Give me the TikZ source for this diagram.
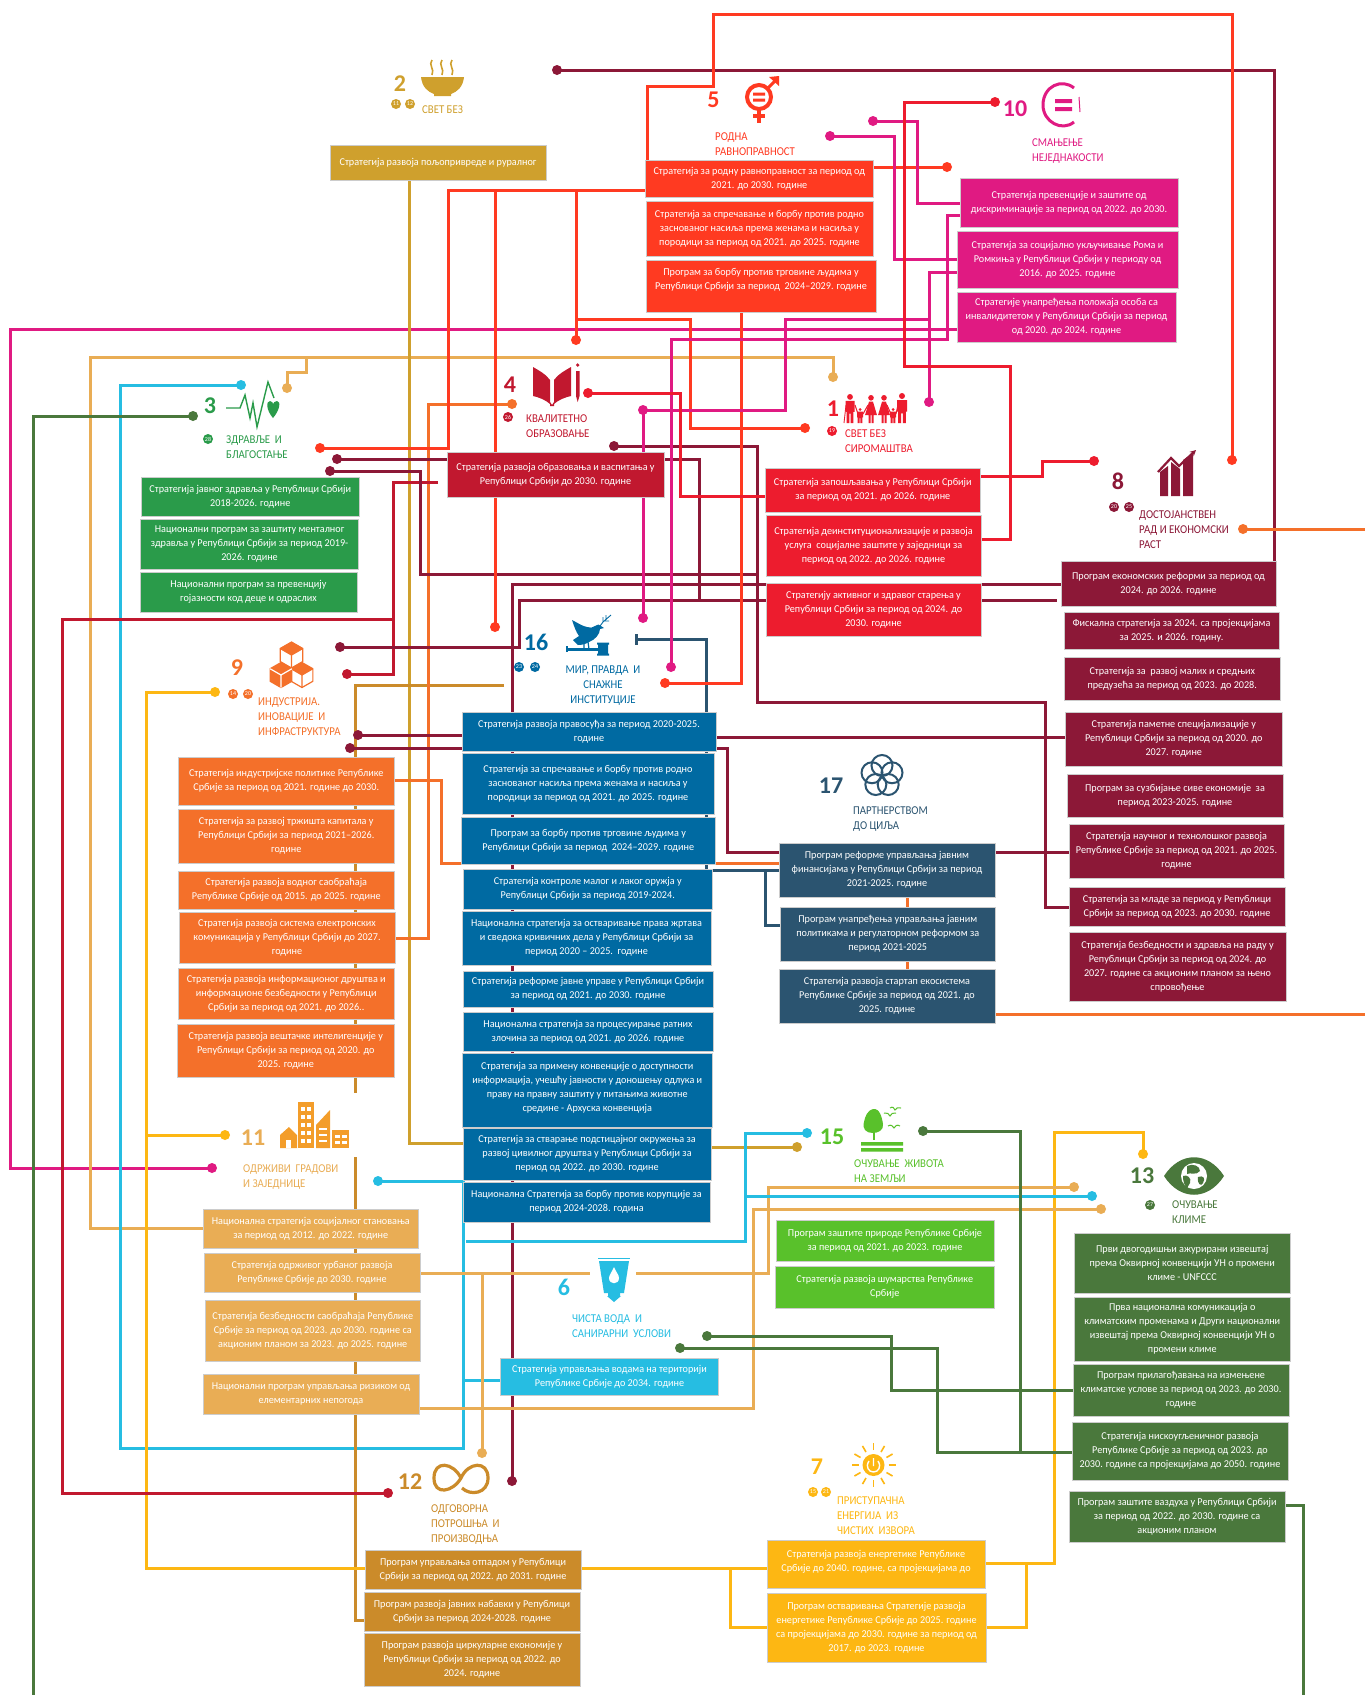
\documentclass[tikz,border=0pt]{standalone}
\usepackage{fontspec}
\setmainfont{Carlito}
\newfontfamily\boxfam[FakeStretch=0.97]{Carlito}
\newfontfamily\labfam[FakeStretch=0.9]{Carlito}
\usetikzlibrary{backgrounds,arrows.meta}
\definecolor{cRed}{HTML}{FF3A21}
\definecolor{cPink}{HTML}{E01A82}
\definecolor{cOne}{HTML}{ED1C2E}
\definecolor{cFour}{HTML}{C1182F}
\definecolor{cEight}{HTML}{8C1837}
\definecolor{cSeventeen}{HTML}{2B5470}
\definecolor{cNine}{HTML}{F4702A}
\definecolor{cTwo}{HTML}{CFA02D}
\definecolor{cTwelve}{HTML}{CB8B2A}
\definecolor{cSeven}{HTML}{FDB713}
\definecolor{cEleven}{HTML}{E9AD55}
\definecolor{cBuild}{HTML}{F39D2A}
\definecolor{cSix}{HTML}{26BDE2}
\definecolor{cThirteen}{HTML}{4A783C}
\definecolor{cThree}{HTML}{2A9B4A}
\definecolor{cFifteen}{HTML}{59C12B}
\definecolor{cSixteen}{HTML}{006AA2}
\tikzset{
  stratbox/.style={draw=black!20,line width=1pt,text=white,align=center,inner sep=0pt,outer sep=0pt,
    font={\fontsize{10.5}{14}\selectfont\boxfam}},
  conn/.style={line width=3pt,line join=miter},
  dotnode/.style={circle,inner sep=0pt,minimum size=10pt},
  numlab/.style={inner sep=0pt,font={\fontsize{24}{24}\selectfont\bfseries}},
  goallab/.style={inner sep=0pt,anchor=west,align=left,yshift=-1pt,font={\fontsize{12}{15}\selectfont\labfam}},
  badgenode/.style={circle,inner sep=0pt,minimum size=10pt,text=white,font={\fontsize{6}{6}\selectfont}}
}
\newcommand{\stbox}[7]{\node[stratbox,fill=#6,minimum width=#4pt-#2pt,minimum height=#5pt-#3pt] (#1) at ({(#2+#4)/2},{(#3+#5)/2}) {#7};}
\newcommand{\dotn}[4]{\node[dotnode,fill=#4] (#1) at (#2,#3) {};}
\newcommand{\badgen}[5]{\node[badgenode,fill=#4] (#1) at (#2,#3) {#5};}
\newcommand{\cubehex}[4]{%
  \draw[cNine,line width=1.2pt,line join=round,fill=#4]
   (#1,#2-#3) -- (#1+.87*#3,#2-.5*#3) -- (#1+.87*#3,#2+.5*#3) -- (#1,#2+#3) -- (#1-.87*#3,#2+.5*#3) -- (#1-.87*#3,#2-.5*#3) -- cycle;}
\newcommand{\cubeinner}[4]{%
  \draw[#4,line width=1.2pt] (#1-.87*#3,#2-.5*#3) -- (#1,#2) -- (#1+.87*#3,#2-.5*#3) (#1,#2) -- (#1,#2+#3);}
\newcommand{\personic}[4]{%
  \fill[cOne] (#1,#2+.1*#3) circle[radius=.1*#3];
  \fill[cOne] (#1-#4/2,#2+.24*#3) -- (#1+#4/2,#2+.24*#3) -- (#1+#4/2,#2+.62*#3) -- (#1+.38*#4,#2+.62*#3) -- (#1+.38*#4,#2+#3) -- (#1+.08*#4,#2+#3) -- (#1+.08*#4,#2+.68*#3) -- (#1-.08*#4,#2+.68*#3) -- (#1-.08*#4,#2+#3) -- (#1-.38*#4,#2+#3) -- (#1-.38*#4,#2+.62*#3) -- (#1-#4/2,#2+.62*#3) -- cycle;}
\newcommand{\womanic}[3]{%
  \fill[cOne] (#1,#2+.1*#3) circle[radius=.1*#3];
  \fill[cOne] (#1-2,#2+.24*#3) -- (#1+2,#2+.24*#3) -- (#1+6,#2+.72*#3) -- (#1+2.5,#2+.72*#3) -- (#1+2.5,#2+#3) -- (#1+.5,#2+#3) -- (#1+.5,#2+.72*#3) -- (#1-.5,#2+.72*#3) -- (#1-.5,#2+#3) -- (#1-2.5,#2+#3) -- (#1-2.5,#2+.72*#3) -- (#1-6,#2+.72*#3) -- cycle;}
\begin{document}
\begin{tikzpicture}[x=1pt,y=-1pt]
\useasboundingbox (0,0) rectangle (1365,1695);
% ---------- boxes
\stbox{b2}{330}{145}{546}{180}{cTwo}{Стратегија развоја пољопривреде и руралног}
\stbox{b5a}{645.5}{160}{873}{197}{cRed}{Стратегија за родну равноправност за период од\\2021. до 2030. године}
\stbox{b5b}{646}{201}{873}{256}{cRed}{Стратегија за спречавање и борбу против родно\\заснованог насиља према женама и насиља у\\породици за период од 2021. до 2025. године}
\stbox{b5c}{646}{260}{876}{312}{cRed}{Програм за борбу против трговине људима у\\Републици Србији за период~~2024–2029. године\\\mbox{}}
\stbox{b10a}{960}{178}{1178}{227}{cPink}{Стратегија превенције и заштите од\\дискриминације за период од 2022. до 2030.}
\stbox{b10b}{957}{231}{1178}{288}{cPink}{Стратегија за социјално укључивање Рома и\\Ромкиња у Републици Србији у периоду од\\2016. до 2025. године}
\stbox{b10c}{957}{292}{1176}{342}{cPink}{Стратегије унапређења положаја особа са\\инвалидитетом у Републици Србији за период\\од 2020. до 2024. године}
\stbox{b3a}{141.5}{477}{359}{516}{cThree}{Стратегија јавног здравља у Републици Србији\\2018-2026. године}
\stbox{b3b}{140.6}{519}{358.5}{569}{cThree}{Национални програм за заштиту менталног\\здравља у Републици Србији за период 2019-\\2026. године}
\stbox{b3c}{140}{572}{357}{612}{cThree}{Национални програм за превенцију\\гојазности код деце и одраслих}
\stbox{b4}{447}{452}{664}{497}{cFour}{Стратегија развоја образовања и васпитања у\\Републици Србији до 2030. године}
\stbox{b1a}{765}{468}{980.6}{512}{cOne}{Стратегија запошљавања у Републици Србији\\за период од 2021. до 2026. године}
\stbox{b1b}{766}{515}{981}{576}{cOne}{Стратегија деинституционализације и развоја\\услуга~~социјалне заштите у заједници за\\период од 2022. до 2026. године}
\stbox{b1c}{766}{583}{981}{636}{cOne}{Стратегију активног и здравог старења у\\Републици Србији за период од 2024. до\\2030. године}
\stbox{b8a}{1061}{561}{1276}{606}{cEight}{Програм економских реформи за период од\\2024. до 2026. године}
\stbox{b8b}{1064}{612}{1279}{649}{cEight}{Фискална стратегија за 2024. са пројекцијама\\за 2025. и 2026. годину.}
\stbox{b8c}{1064.5}{657}{1280}{700}{cEight}{Стратегија за~~развој малих и средњих\\предузећа за период од 2023. до 2028.}
\stbox{b8d}{1065.5}{712}{1282}{766}{cEight}{Стратегија паметне специјализације у\\Републици Србији за период од 2020. до\\2027. године}
\stbox{b8e}{1067}{774}{1283}{817}{cEight}{Програм за сузбијање сиве економије~~за\\период 2023-2025. године}
\stbox{b8f}{1069}{824}{1284}{878}{cEight}{Стратегија научног и технолошког развоја\\Републике Србије за период од 2021. до 2025.\\године}
\stbox{b8g}{1069}{887}{1285}{926}{cEight}{Стратегија за младе за период у Републици\\Србији за период од 2023. до 2030. године}
\stbox{b8h}{1069}{932}{1286}{1001}{cEight}{Стратегија безбедности и здравља на раду у\\Републици Србији за период од 2024. до\\2027. године са акционим планом за њено\\спровођење}
\stbox{b9a}{178}{757}{394.5}{805}{cNine}{Стратегија индустријске политике Републике\\Србије за период од 2021. године до 2030.}
\stbox{b9b}{178}{809}{394.5}{863}{cNine}{Стратегија за развој тржишта капитала у\\Републици Србији за период 2021–2026.\\године}
\stbox{b9c}{178}{871}{394.5}{909}{cNine}{Стратегија развоја водног саобраћаја\\Републике Србије од 2015. до 2025. године}
\stbox{b9d}{179}{912}{395}{963}{cNine}{Стратегија развоја система електронских\\комуникација у Републици Србији до 2027.\\године}
\stbox{b9e}{178}{968}{394.5}{1019}{cNine}{Стратегија развоја информационог друштва и\\информационе безбедности у Републици\\Србији за период од 2021. до 2026..}
\stbox{b9f}{177.5}{1024}{394}{1077}{cNine}{Стратегија развоја вештачке интелигенције у\\Републици Србији за период од 2020. до\\2025. године}
\stbox{b16a}{462}{712}{716}{751}{cSixteen}{Стратегија развоја правосуђа за период 2020-2025.\\године}
\stbox{b16b}{462}{753}{714}{814}{cSixteen}{Стратегија за спречавање и борбу против родно\\заснованог насиља према женама и насиља у\\породици за период од 2021. до 2025. године}
\stbox{b16c}{461.5}{817}{715}{864}{cSixteen}{Програм за борбу против трговине људима у\\Републици Србији за период~~2024–2029. године}
\stbox{b16d}{463}{869}{712.5}{909}{cSixteen}{Стратегија контроле малог и лаког оружја у\\Републици Србији за период 2019-2024.}
\stbox{b16e}{462}{911}{711}{965}{cSixteen}{Национална стратегија за остваривање права жртава\\и сведока кривичних дела у Републици Србији за\\период 2020 – 2025.~~године}
\stbox{b16f}{463}{971}{713}{1007}{cSixteen}{Стратегија реформе јавне управе у Републици Србији\\за период од 2021. до 2030. године}
\stbox{b16g}{463}{1012}{713}{1051}{cSixteen}{Национална стратегија за процесуирање ратних\\злочина за период од 2021. до 2026. године}
\stbox{b16h}{462}{1053}{712.5}{1127}{cSixteen}{Стратегија за примену конвенције о доступности\\информација, учешћу јавности у доношењу одлука и\\праву на правну заштиту у питањима животне\\средине - Архуска конвенција\\[-7pt]\mbox{}}
\stbox{b16i}{463}{1128}{711}{1180}{cSixteen}{Стратегија за стварање подстицајног окружења за\\развој цивилног друштва у Републици Србији за\\период од 2022. до 2030. године}
\stbox{b16j}{463}{1182}{710}{1222}{cSixteen}{Национална Стратегија за борбу против корупције за\\период 2024-2028. година}
\stbox{b17a}{779}{843}{995}{897}{cSeventeen}{Програм реформе управљања јавним\\финансијама у Републици Србији за период\\2021-2025. године}
\stbox{b17b}{780}{907}{995.5}{961}{cSeventeen}{Програм унапређења управљања јавним\\политикама и регулаторном реформом за\\период 2021-2025}
\stbox{b17c}{779}{969}{995}{1023}{cSeventeen}{Стратегија развоја стартап екосистема\\Републике Србије за период од 2021. до\\2025. године}
\stbox{b11a}{203}{1209}{418.6}{1248}{cEleven}{Национална стратегија социјалног становања\\за период од 2012. до 2022. године}
\stbox{b11b}{204}{1253}{420}{1292}{cEleven}{Стратегија одрживог урбаног развоја\\Републике Србије до 2030. године}
\stbox{b11c}{205}{1300}{420.5}{1361}{cEleven}{Стратегија безбедности саобраћаја Републике\\Србије за период од 2023. до 2030. године са\\акционим планом за 2023. до 2025. године}
\stbox{b11d}{203}{1374}{419}{1414}{cEleven}{Национални програм управљања ризиком од\\елементарних непогода}
\stbox{b6}{500.5}{1358}{718.6}{1395}{cSix}{Стратегија управљања водама на територији\\Републике Србије до 2034. године}
\stbox{b15a}{776}{1220}{994}{1261}{cFifteen}{Програм заштите природе Републике Србије\\за период од 2021. до 2023. године}
\stbox{b15b}{775.5}{1266}{994}{1308}{cFifteen}{Стратегија развоја шумарства Републике\\Србије}
\stbox{b13a}{1074.5}{1233}{1290}{1293}{cThirteen}{Први двогодишњи ажурирани извештај\\према Оквирној конвенцији УН о промени\\климе - UNFCCC}
\stbox{b13b}{1074.5}{1297}{1290}{1361}{cThirteen}{Прва национална комуникација о\\климатским променама и Други национални\\извештај према Оквирној конвенцији УН о\\промени климе}
\stbox{b13c}{1073}{1364}{1289}{1416}{cThirteen}{Програм прилагођавања на измењене\\климатске услове за период од 2023. до 2030.\\године}
\stbox{b13d}{1072}{1422}{1288}{1480}{cThirteen}{Стратегија нискоугљеничног развоја\\Републике Србије за период од 2023. до\\2030. године са пројекцијама до 2050. године}
\stbox{b13e}{1069}{1491}{1285}{1542}{cThirteen}{Програм заштите ваздуха у Републици Србији\\за период од 2022. до 2030. године са\\акционим планом}
\stbox{b12a}{365}{1550}{581}{1589}{cTwelve}{Програм управљања отпадом у Републици\\Србији за период од 2022. до 2031. године}
\stbox{b12b}{364}{1592}{580}{1631}{cTwelve}{Програм развоја јавних набавки у Републици\\Србији за период 2024-2028. године}
\stbox{b12c}{364}{1633}{580}{1686}{cTwelve}{Програм развоја циркуларне економије у\\Републици Србији за период од 2022. до\\2024. године}
\stbox{b7a}{767}{1540}{985}{1588}{cSeven}{Стратегија развоја енергетике Републике\\Србије до 2040. године, са пројекцијама до\\[-7pt]\mbox{}}
\stbox{b7b}{767}{1593}{986}{1662}{cSeven}{Програм остваривања Стратегије развоја\\енергетике Републике Србије до 2025. године\\са пројекцијама до 2030. године за период од\\2017. до 2023. године}
% ---------- end dots
\dotn{d8r}{1232}{460}{cRed}
\dotn{d5e}{947}{167}{cRed}
\dotn{d3r}{320}{448}{cRed}
\dotn{d16r}{495}{627}{cRed}
\dotn{d5b}{576}{340}{cRed}
\dotn{d1o}{805}{428}{cRed}
\dotn{d16o}{665}{683}{cRed}
\dotn{d10a}{873}{121}{cPink}
\dotn{d10b}{830}{136}{cPink}
\dotn{d16p}{671}{667}{cPink}
\dotn{d1p}{929}{402}{cPink}
\dotn{d4p}{643}{410}{cPink}
\dotn{d16q}{643}{618}{cPink}
\dotn{d11p}{212}{1168}{cPink}
\dotn{d10r}{995}{102}{cOne}
\dotn{d8c}{1094}{461}{cOne}
\dotn{d4r}{588}{393}{cOne}
\dotn{d9c}{347}{674}{cFour}
\dotn{d12c}{388}{1493}{cFour}
\dotn{d2d}{557}{70}{cEight}
\dotn{d3d}{337}{459}{cEight}
\dotn{d9d}{340}{647}{cEight}
\dotn{d12d}{512}{1481}{cEight}
\dotn{d3e}{330}{471}{cEight}
\dotn{d4d}{614}{446}{cEight}
\dotn{d9e}{358}{735}{cEight}
\dotn{d9f}{350}{748}{cEight}
\dotn{d4o}{512}{404}{cNine}
\dotn{d8o}{1243}{529}{cNine}
\dotn{d15g}{797}{1147}{cTwo}
\dotn{d9y}{215}{692}{cSeven}
\dotn{d11y}{225}{1135}{cSeven}
\dotn{d13y}{1143}{1154}{cSeven}
\dotn{d1t}{833}{377}{cEleven}
\dotn{d3t}{287}{388}{cEleven}
\dotn{d15t}{1074}{1187}{cEleven}
\dotn{d12t}{482}{1453}{cEleven}
\dotn{d15u}{1101}{1209}{cEleven}
\dotn{d3c}{241}{385}{cSix}
\dotn{d11c}{378}{1181}{cSix}
\dotn{d15c}{807}{1133}{cSix}
\dotn{d13c}{1092}{1196}{cSix}
\dotn{d3g}{193}{416}{cThirteen}
\dotn{d15d}{923}{1131}{cThirteen}
\dotn{d6a}{707}{1336}{cThirteen}
\dotn{d6b}{680}{1348}{cThirteen}
\node[fill=cSeventeen,minimum width=3pt,minimum height=11pt,inner sep=0pt] (d16t) at (636,639) {};
% ---------- junctions and free ends
\coordinate (j495) at (495,190);
\coordinate (j576) at (576,190);
\coordinate (j319) at (576,319);
\coordinate (j929) at (929,319);
\coordinate (j393) at (393,619);
\coordinate (f438) at (438,482);
\coordinate (j699) at (699,600);
\coordinate (f1057) at (1057,600);
\coordinate (f757) at (757,574);
\coordinate (f504) at (504,685);
\coordinate (g1093) at (355,1093);
\coordinate (g1157) at (355,1157);
\coordinate (j765) at (765,870);
\coordinate (j146) at (146,1135);
\coordinate (j730) at (730,1568);
\coordinate (j1026) at (1026,1563);
\coordinate (j306) at (306,357);
\coordinate (g590) at (590,1273);
\coordinate (g636) at (636,1273);
\coordinate (j482) at (482,1273);
\coordinate (j463) at (463,1380);
\coordinate (f466) at (466,1241);
\coordinate (f747) at (747,1196);
\coordinate (eL) at (33,1695);
\coordinate (eR) at (1303,1695);
\coordinate (e9) at (1365,529);
\coordinate (e17) at (1365,1014);
% ---------- connectors (behind the boxes)
\begin{pgfonlayer}{background}
\fill[white] (0,0) rectangle (1365,1695);
\draw[conn,cEight] (b8a.north -| 1274,0) -- (1274,70) -- (d2d.center);
\draw[conn,cPink] (b10c.west |- 0,329) -- (10,329) -- (10,1168) -- (d11p.center);
\draw[conn,cEleven] (b11a.west |- 0,1228) -- (90,1228) -- (90,357) -- (833,357) -- (d1t.center);
\draw[conn,cEleven] (j306) -- (306,372) -- (287,372) -- (d3t.center);
\draw[conn,cSix] (d3c.center) -- (120,385) -- (120,1448) -- (463,1448) -- (463,1181) -- (d11c.center);
\draw[conn,cSix] (b6.west |- 0,1380) -- (j463);
\draw[conn,cThirteen] (d3g.center) -- (33,416) -- (eL);
\draw[conn,cTwo] (b2.south -| 409,0) -- (409,1143) -- (b16i.west |- 0,1143);
\draw[conn,cTwo] (b16i.east |- 0,1147) -- (d15g.center);
\draw[conn,cTwelve] (f504) -- (355,685) -- (g1093);
\draw[conn,cTwelve] (g1157) -- (355,1620) -- (b12b.west |- 0,1620);
\draw[conn,cSeven] (d9y.center) -- (146,692) -- (146,1568) -- (b7a.west |- 0,1568);
\draw[conn,cSeven] (d11y.center) -- (j146);
\draw[conn,cSeven] (j730) -- (730,1627) -- (b7b.west |- 0,1627);
\draw[conn,cSeven] (b7a.east |- 0,1563) -- (1054,1563) -- (1054,1132) -- (1143,1132) -- (d13y.center);
\draw[conn,cSeven] (b7b.east |- 0,1627) -- (1026,1627) -- (j1026);
\draw[conn,cNine] (d4o.center) -- (428,404) -- (428,938) -- (b9d.east |- 0,938);
\draw[conn,cNine] (b9a.east |- 0,780) -- (441,780) -- (441,863) -- (b17a.west |- 0,863);
\draw[conn,cNine] (b17a.south -| 907,0) -- (b17c.north -| 907,0);
\draw[conn,cNine] (b17c.east |- 0,1014) -- (e17);
\draw[conn,cNine] (d8o.center) -- (e9);
\draw[conn,cFour] (f438) -- (393,482) -- (393,674) -- (d9c.center);
\draw[conn,cFour] (j393) -- (62,619) -- (62,1493) -- (d12c.center);
\draw[conn,cEight] (d3d.center) -- (699,459) -- (699,600) -- (519,600) -- (519,647) -- (d9d.center);
\draw[conn,cEight] (j699) -- (f1057);
\draw[conn,cEight] (b8a.west |- 0,584) -- (512,584) -- (d12d.center);
\draw[conn,cEight] (d3e.center) -- (420,471) -- (420,574) -- (f757);
\draw[conn,cEight] (d4d.center) -- (757,446) -- (757,702) -- (1045,702) -- (1045,907) -- (b8g.west |- 0,907);
\draw[conn,cEight] (d9e.center) -- (b16a.west |- 0,735);
\draw[conn,cEight] (b16a.east |- 0,737) -- (b8d.west |- 0,737);
\draw[conn,cEight] (d9f.center) -- (b16a.west |- 0,748);
\draw[conn,cEight] (b16a.east |- 0,748) -- (727,748) -- (727,852) -- (b8f.west |- 0,852);
\draw[conn,cSeventeen] (d16t.center) -- (706,639) -- (706,870) -- (b17a.west |- 0,870);
\draw[conn,cSeventeen] (j765) -- (765,925) -- (b17b.west |- 0,925);
\draw[conn,cRed] (d8r.center) -- (1232,14) -- (713,14) -- (713,86) -- (647,86) -- (b5a.north -| 647,0);
\draw[conn,cRed] (b5a.east |- 0,167) -- (d5e.center);
\draw[conn,cRed] (b5a.west |- 0,190) -- (448,190) -- (448,448) -- (d3r.center);
\draw[conn,cRed] (j495) -- (d16r.center);
\draw[conn,cRed] (j576) -- (d5b.center);
\draw[conn,cRed] (j319) -- (690,319) -- (690,428) -- (d1o.center);
\draw[conn,cRed] (b5c.south -| 741,0) -- (741,683) -- (d16o.center);
\draw[conn,cPink] (d10a.center) -- (917,121) -- (917,203) -- (b10a.west |- 0,203);
\draw[conn,cPink] (d10b.center) -- (894,136) -- (894,259) -- (b10b.west |- 0,259);
\draw[conn,cPink] (b10a.west |- 0,215) -- (947.5,215) -- (947.5,339) -- (671,339) -- (d16p.center);
\draw[conn,cPink] (b10b.west |- 0,272) -- (929,272) -- (d1p.center);
\draw[conn,cPink] (j929) -- (785,319) -- (785,410) -- (d4p.center) -- (d16q.center);
\draw[conn,cOne] (d10r.center) -- (904,102) -- (904,366) -- (1010,366) -- (1010,539) -- (b1b.east |- 0,539);
\draw[conn,cOne] (b1a.east |- 0,476) -- (1042,476) -- (1042,461) -- (d8c.center);
\draw[conn,cOne] (d4r.center) -- (680,393) -- (680,496) -- (b1a.west |- 0,496);
\draw[conn,cEleven] (b11b.east |- 0,1273) -- (g590);
\draw[conn,cEleven] (g636) -- (768,1273) -- (768,1187) -- (d15t.center);
\draw[conn,cEleven] (j482) -- (d12t.center);
\draw[conn,cEleven] (b11d.east |- 0,1408) -- (753,1408) -- (753,1209) -- (d15u.center);
\draw[conn,cSix] (f466) -- (745,1241) -- (745,1133) -- (d15c.center);
\draw[conn,cSix] (f747) -- (d13c.center);
\draw[conn,cThirteen] (d15d.center) -- (1020,1131) -- (1020,1452);
\draw[conn,cThirteen] (d6a.center) -- (891,1336) -- (891,1390) -- (b13c.west |- 0,1390);
\draw[conn,cThirteen] (d6b.center) -- (937,1348) -- (937,1452) -- (b13d.west |- 0,1452);
\draw[conn,cThirteen] (b13e.east |- 0,1505) -- (1303,1505) -- (eR);
\end{pgfonlayer}
% ---------- numbers, labels, badges
\node[numlab,text=cTwo] (n2) at (400,84) {2};
\badgen{g2a}{396}{104}{cTwo}{11}
\badgen{g2b}{410}{104}{cTwo}{12}
\node[goallab,text=cTwo] (l2) at (422,109) {СВЕТ БЕЗ};
\node[numlab,text=cRed] (n5) at (713.5,99.5) {5};
\node[goallab,text=cRed] (l5) at (715,143.5) {РОДНА\\РАВНОПРАВНОСТ};
\node[numlab,text=cPink] (n10) at (1015,109) {10};
\node[goallab,text=cPink] (l10) at (1032,150.5) {СМАЊЕЊЕ\\НЕЈЕДНАКОСТИ};
\node[numlab,text=cThree] (n3) at (210,405.5) {3};
\badgen{g3}{208}{439}{cThree}{28}
\node[goallab,text=cThree] (l3) at (226,446.5) {ЗДРАВЉЕ~ И\\БЛАГОСТАЊЕ};
\node[numlab,text=cFour] (n4) at (510,385) {4};
\badgen{g4}{508}{417}{cFour}{26}
\node[goallab,text=cFour] (l4) at (526,425.5) {КВАЛИТЕТНО\\ОБРАЗОВАЊЕ};
\node[numlab,text=cNine] (n9) at (237,668) {9};
\badgen{g9a}{233}{694}{cNine}{14}
\badgen{g9b}{248}{694}{cNine}{20}
\node[goallab,text=cNine] (l9) at (258,716) {ИНДУСТРИЈА.\\ИНОВАЦИЈЕ~ И\\ИНФРАСТРУКТУРА};
\node[numlab,text=cSixteen] (n16) at (536,642) {16};
\badgen{g16a}{519}{667}{cSixteen}{23}
\badgen{g16b}{535}{667}{cSixteen}{24}
\node[goallab,anchor=center,align=center,text=cSixteen] (l16) at (603,685) {МИР, ПРАВДА~ И\\СНАЖНЕ\\ИНСТИТУЦИЈЕ};
\node[numlab,text=cOne] (n1) at (833,409) {1};
\badgen{g1}{832}{431}{cOne}{19}
\node[goallab,text=cOne] (l1) at (845,440.5) {СВЕТ БЕЗ\\СИРОМАШТВА};
\node[numlab,text=cEight] (n8) at (1118,481) {8};
\badgen{g8a}{1114}{507}{cEight}{20}
\badgen{g8b}{1129}{507}{cEight}{25}
\node[goallab,text=cEight] (l8) at (1139,529) {ДОСТОЈАНСТВЕН\\РАД И ЕКОНОМСКИ\\РАСТ};
\node[numlab,text=cSeventeen] (n17) at (831,786) {17};
\node[goallab,text=cSeventeen] (l17) at (853,818.5) {ПАРТНЕРСТВОМ\\ДО ЦИЉА};
\node[numlab,text=cEleven] (n11) at (253,1138) {11};
\node[goallab,text=cEleven] (l11) at (243,1176.5) {ОДРЖИВИ~ ГРАДОВИ\\И ЗАЈЕДНИЦЕ};
\node[numlab,text=cSix] (n6) at (564,1287) {6};
\node[goallab,text=cSix] (l6) at (572,1325) {ЧИСТА ВОДА~ И\\САНИРАРНИ~ УСЛОВИ};
\node[numlab,text=cFifteen] (n15) at (832,1137) {15};
\node[goallab,text=cFifteen] (l15) at (854,1170.5) {ОЧУВАЊЕ~ ЖИВОТА\\НА ЗЕМЉИ};
\node[numlab,text=cThirteen] (n13) at (1142,1176) {13};
\badgen{g13}{1150}{1205}{cThirteen}{27}
\node[goallab,text=cThirteen] (l13) at (1172,1211.5) {ОЧУВАЊЕ\\КЛИМЕ};
\node[numlab,text=cTwelve] (n12) at (410,1482) {12};
\node[goallab,text=cTwelve] (l12) at (431,1524) {ОДГОВОРНА\\ПОТРОШЊА~ И\\ПРОИЗВОДЊА};
\node[numlab,text=cSeven] (n7) at (817,1467) {7};
\badgen{g7a}{813}{1492}{cSeven}{15}
\badgen{g7b}{826}{1492}{cSeven}{21}
\node[goallab,text=cSeven] (l7) at (837,1515) {ПРИСТУПАЧНА\\ЕНЕРГИЈА~ ИЗ\\ЧИСТИХ~ ИЗВОРА};
% ---------- icons
% 2 bowl
\fill[cTwo] (421,77) -- (464,77) .. controls (463,87) and (457,92) .. (451,94) -- (451,96) -- (434,96) -- (434,94) .. controls (428,92) and (422,87) .. (421,77) -- cycle;
\foreach \sx in {432,442,452}{\draw[cTwo,line width=1.6pt] (\sx,60) .. controls (\sx-4,65) and (\sx+3,69) .. (\sx,75);}
% 5 gender
\draw[cRed,line width=4pt] (759,97) circle[radius=12];
\fill[cRed] (753,92.5) rectangle (765,95.5) (753,98.5) rectangle (765,101.5);
\draw[cRed,line width=3.5pt] (759,109) -- (759,123) (753,116) -- (765,116);
\draw[cRed,line width=3pt] (768,88) -- (776,80);
\fill[cRed] (779,76) -- (779,86) -- (769,77) -- cycle;
% 10 equality
\draw[cPink,line width=3pt] (1074,88) .. controls (1062,78) and (1043,86) .. (1043,105) .. controls (1043,122) and (1062,132) .. (1074,122);
\draw[cPink,line width=1pt] (1079,97) -- (1080,112);
\fill[cPink] (1055,99) rectangle (1072,103) (1055,107) rectangle (1072,111);
% 3 heartbeat
\draw[cThree,line width=1.4pt] (226,408) -- (240,408) -- (245,395) -- (250,418) -- (253,403) -- (257,427) -- (268,382) -- (274,398);
\fill[cThree] (273,418) .. controls (266,410) and (266,401) .. (270,401) .. controls (272,401) and (273,403) .. (273,404) .. controls (273,403) and (275,401) .. (277,401) .. controls (281,401) and (280,410) .. (273,418) -- cycle;
% 4 book
\fill[cFour] (533,367) .. controls (538,370) and (546,374) .. (550,380) -- (550,404) .. controls (546,400) and (538,397) .. (533,396) -- cycle;
\fill[cFour] (571,367) .. controls (566,370) and (558,374) .. (554,380) -- (554,404) .. controls (558,400) and (566,397) .. (571,396) -- cycle;
\fill[cFour] (550,402) -- (552,405) -- (554,402) -- (554,406) -- (550,406) -- cycle;
\fill[cFour] (576,371) rectangle (579.5,396) (576,396) -- (579.5,396) -- (577.7,402) -- cycle;
\fill[cFour] (577.7,365) circle[radius=1.8];
% 1 family
\personic{850}{394}{29}{9}
\draw[cOne,line width=.9pt] (846,405) -- (844,423);
\personic{860}{408}{15}{6}
\womanic{871}{395}{28}
\womanic{884}{395}{28}
\personic{893}{408}{15}{6}
\personic{902}{393}{30}{10}
\draw[cOne,line width=1pt] (855,405) -- (858,414) (863,414) -- (868,405) (887,405) -- (891,414) (896,414) -- (898,405);
% 8 chart
\fill[cEight] (1160,472) -- (1168,466) -- (1168,496) -- (1160,496) -- cycle;
\fill[cEight] (1171,462) -- (1180,469) -- (1180,496) -- (1171,496) -- cycle;
\fill[cEight] (1183,460) -- (1193,453) -- (1193,496) -- (1183,496) -- cycle;
\draw[cEight,line width=2.2pt,-{Stealth[length=6pt,width=6pt]}] (1158,472) -- (1171,458) -- (1179,466) -- (1196,450);
% 16 dove and gavel
\fill[cSixteen] (572,620) .. controls (578,623) and (582,626) .. (587,627) .. controls (590,628) and (593,628) .. (595,626) .. controls (597,624) and (600,624) .. (601,626) -- (604,628) -- (600,629) .. controls (600,634) and (595,640) .. (589,642) .. controls (586,644) and (582,645) .. (578,645) -- (573,640) -- (579,636) .. controls (576,632) and (574,626) .. (572,620) -- cycle;
\draw[cSixteen,line width=.9pt] (600,626) -- (603,622) -- (611,615) (603,622) -- (603,617) (606,619) -- (606,615) (604,621) -- (609,621);
\draw[cSixteen,line width=1.2pt] (584,643) -- (584,649) (588,642) -- (589,649);
\fill[cSixteen] (566,647.5) rectangle (598,650.5);
\fill[cSixteen] (566,646) rectangle (568,652);
\fill[cSixteen] (598,644) rectangle (608,654) (597,642.5) rectangle (609,644.5) (597,653.5) rectangle (609,655.5);
% 9 cubes
\cubehex{291.5}{655}{13}{white}
\fill[cNine] (291.5,642) -- (302.8,648.5) -- (291.5,655) -- (280.2,648.5) -- cycle;
\cubeinner{291.5}{655}{13}{cNine}
\cubehex{302}{675}{12.5}{white}
\fill[cNine] (302,662.5) -- (312.9,668.7) -- (302,675) -- (291.1,668.7) -- cycle;
\cubeinner{302}{675}{12.5}{cNine}
\cubehex{281}{675}{12.5}{cNine}
\cubeinner{281}{675}{12.5}{white}
% 17 rings
\foreach \a in {90,162,234,306,18}{\draw[cSeventeen,line width=2pt] ({882+10.5*cos(\a)},{776-10.5*sin(\a)}) circle[radius=10.5];}
% 11 buildings
\fill[cBuild] (280,1135) -- (289,1127) -- (297,1135) -- (297,1148) -- (280,1148) -- cycle;
\fill[white] (286,1140) rectangle (291,1148);
\fill[cBuild] (298,1102) rectangle (314,1148);
\foreach \wx in {301,307}{\foreach \wy in {1107,1115,1123,1131,1139}{\fill[white] (\wx,\wy) rectangle ++(4,4);}}
\fill[cBuild] (316,1125) -- (330,1110) -- (330,1148) -- (316,1148) -- cycle;
\foreach \wy in {1128,1134,1140}{\fill[white] (319,\wy) rectangle ++(8,2);}
\fill[cBuild] (332,1130) rectangle (349,1148);
\foreach \wx in {335,342}{\foreach \wy in {1135,1141}{\fill[white] (\wx,\wy) rectangle ++(5,3);}}
% 15 tree
\fill[cFifteen] (873,1109) .. controls (880,1108) and (882,1118) .. (883,1124) .. controls (884,1130) and (878,1133) .. (873,1133) .. controls (866,1133) and (862,1129) .. (864,1122) .. controls (865,1116) and (868,1110) .. (873,1109) -- cycle;
\draw[cFifteen,line width=1.5pt] (874,1130) -- (874,1140);
\fill[cFifteen] (861,1142) rectangle (903,1145.5) (861,1148) rectangle (903,1151.5);
\draw[cFifteen,line width=1pt] (884,1113) .. controls (887,1112) and (889,1114) .. (890,1116) .. controls (891,1114) and (893,1112) .. (896,1113)
  (890,1108) .. controls (893,1106) and (894,1108) .. (895,1110) .. controls (896,1108) and (898,1107) .. (901,1108)
  (888,1126) .. controls (891,1124) and (893,1126) .. (894,1128) .. controls (895,1126) and (897,1124) .. (900,1126);
% 13 eye
\fill[cThirteen] (1164,1176) .. controls (1180,1151) and (1208,1151) .. (1224,1176) .. controls (1208,1201) and (1180,1201) .. (1164,1176) -- cycle;
\fill[white] (1194,1176) circle[radius=13];
\fill[cThirteen] (1187,1166) .. controls (1193,1163) and (1200,1166) .. (1200,1171) .. controls (1196,1176) and (1190,1172) .. (1187,1174) -- cycle;
\fill[cThirteen] (1183,1176) .. controls (1187,1174) and (1192,1178) .. (1190,1183) -- (1187,1188) .. controls (1184,1185) and (1183,1181) .. (1183,1176) -- cycle;
\fill[cThirteen] (1198,1177) .. controls (1203,1175) and (1206,1178) .. (1203,1183) .. controls (1201,1187) and (1197,1184) .. (1198,1177) -- cycle;
% 6 cup
\draw[cSix,line width=1pt] (598,1258) -- (630,1258);
\fill[cSix] (599,1261) -- (629,1261) -- (624,1293) -- (604,1293) -- cycle;
\fill[cSix] (608,1293) rectangle (620,1296) (607,1296) -- (621,1296) -- (614,1302) -- cycle;
\fill[white] (614,1267) .. controls (616,1272) and (619,1275) .. (619,1278) .. controls (619,1285) and (609,1285) .. (609,1278) .. controls (609,1275) and (612,1272) .. (614,1267) -- cycle;
% 12 infinity
\draw[cTwelve,line width=3.2pt] (461,1478) .. controls (453,1462) and (434,1460) .. (434,1478) .. controls (434,1496) and (453,1492) .. (461,1478) .. controls (468,1462) and (488,1460) .. (488,1478) .. controls (488,1494) and (470,1496) .. (462,1488);
% 7 sun
\fill[cSeven] (873.5,1465) circle[radius=11];
\draw[white,line width=1.4pt] (869,1461) .. controls (865,1467) and (869,1472) .. (873.5,1472) .. controls (878,1472) and (882,1467) .. (878,1461) (873.5,1458) -- (873.5,1466);
\foreach \a in {0,30,...,330}{\draw[cSeven,line width=1.6pt] ({873.5+15*cos(\a)},{1465+15*sin(\a)}) -- ({873.5+22*cos(\a)},{1465+22*sin(\a)});}
\end{tikzpicture}
\end{document}
